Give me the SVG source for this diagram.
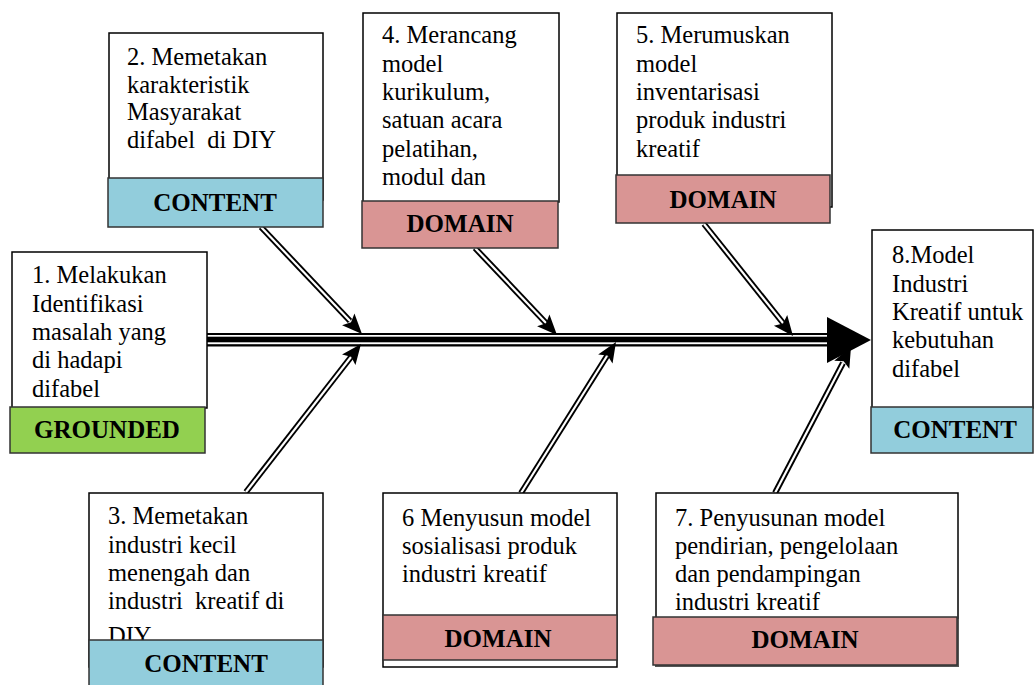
<svg xmlns="http://www.w3.org/2000/svg" width="1036" height="685" viewBox="0 0 1036 685">
<style>
.box{fill:#fff;stroke:#000;stroke-width:1.5}
.g{fill:#92d050;stroke:#333;stroke-width:1.5}
.c{fill:#92cddc;stroke:#333;stroke-width:1.5}
.d{fill:#d99594;stroke:#333;stroke-width:1.5}
.t{font-family:"Liberation Serif","Times New Roman",serif;font-size:24.5px;fill:#000}
.b{font-family:"Liberation Serif","Times New Roman",serif;font-size:25px;font-weight:bold;fill:#000;text-anchor:middle}
.sh{fill:none;stroke:#000;stroke-width:6}
.sw{fill:none;stroke:#fff;stroke-width:2.2}
.ah{fill:none;stroke:none}
</style>
<defs>
<marker id="ah" markerUnits="userSpaceOnUse" markerWidth="24" markerHeight="20" viewBox="-22 -10 24 20" refX="0" refY="0" orient="auto">
<path d="M0,0 L-20,-8.5 L-16,0 L-20,8.5 Z" fill="#000"/>
</marker>
</defs>

<g id="connectors">
<rect x="207" y="333" width="623" height="13.5" fill="#000"/>
<rect x="207" y="335" width="623" height="1.7" fill="#fff"/>
<rect x="207" y="342.3" width="623" height="1.9" fill="#fff"/>
<polygon points="827,317 871,340 827,363" fill="#000"/>
<path class="sh" d="M261,227 L350,321"/>
<path class="sw" d="M261,227 L350,321"/>
<path class="sh" d="M246,492 L351,357"/>
<path class="sw" d="M246,492 L351,357"/>
<path class="sh" d="M475,248 L546,323"/>
<path class="sw" d="M475,248 L546,323"/>
<path class="sh" d="M704,224 L783,323"/>
<path class="sw" d="M704,224 L783,323"/>
<path class="sh" d="M521,493 L607,356"/>
<path class="sw" d="M521,493 L607,356"/>
<path class="sh" d="M775,493 L843,363"/>
<path class="sw" d="M775,493 L843,363"/>
<path class="ah" d="M261,227 L362,334" marker-end="url(#ah)"/>
<path class="ah" d="M246,492 L361,344" marker-end="url(#ah)"/>
<path class="ah" d="M475,248 L557,335" marker-end="url(#ah)"/>
<path class="ah" d="M704,224 L793,336" marker-end="url(#ah)"/>
<path class="ah" d="M521,493 L616,342" marker-end="url(#ah)"/>
<path class="ah" d="M775,493 L851,347" marker-end="url(#ah)"/>
</g>

<g id="node1">
<rect class="box" x="12" y="252" width="195" height="156"/>
<text class="t" x="32" y="283">1. Melakukan</text>
<text class="t" x="32" y="312">Identifikasi</text>
<text class="t" x="32" y="340">masalah yang</text>
<text class="t" x="32" y="368">di hadapi</text>
<text class="t" x="32" y="397">difabel</text>
<rect class="g" x="10" y="407" width="195" height="46"/>
<text class="b" x="107" y="438">GROUNDED</text>
</g>

<g id="node2">
<rect class="box" x="109" y="33" width="214" height="167"/>
<text class="t" x="127" y="65">2. Memetakan</text>
<text class="t" x="127" y="93">karakteristik</text>
<text class="t" x="127" y="120">Masyarakat</text>
<text class="t" x="127" y="148" xml:space="preserve">difabel  di DIY</text>
<rect class="c" x="108" y="178" width="215" height="49"/>
<text class="b" x="215" y="211">CONTENT</text>
</g>

<g id="node3">
<rect class="box" x="89" y="493" width="234" height="174"/>
<text class="t" x="108" y="524">3. Memetakan</text>
<text class="t" x="108" y="553">industri kecil</text>
<text class="t" x="108" y="581">menengah dan</text>
<text class="t" x="108" y="609" xml:space="preserve">industri  kreatif di</text>
<text class="t" x="108" y="644">DIY</text>
<rect class="c" x="89" y="640" width="234" height="50"/>
<text class="b" x="206" y="672">CONTENT</text>
</g>

<g id="node4">
<rect class="box" x="363" y="13" width="196" height="189"/>
<text class="t" x="382" y="43">4. Merancang</text>
<text class="t" x="382" y="72">model</text>
<text class="t" x="382" y="100">kurikulum,</text>
<text class="t" x="382" y="128">satuan acara</text>
<text class="t" x="382" y="157">pelatihan,</text>
<text class="t" x="382" y="185">modul dan</text>
<rect class="d" x="362" y="201" width="196" height="47"/>
<text class="b" x="460" y="232">DOMAIN</text>
</g>

<g id="node5">
<rect class="box" x="617" y="13" width="215" height="194"/>
<text class="t" x="636" y="43">5. Merumuskan</text>
<text class="t" x="636" y="72">model</text>
<text class="t" x="636" y="100">inventarisasi</text>
<text class="t" x="636" y="128">produk industri</text>
<text class="t" x="636" y="157">kreatif</text>
<rect class="d" x="616" y="175" width="214" height="48"/>
<text class="b" x="723" y="208">DOMAIN</text>
</g>

<g id="node6">
<rect class="box" x="383" y="493" width="234" height="174"/>
<text class="t" x="402" y="526">6 Menyusun model</text>
<text class="t" x="402" y="554">sosialisasi produk</text>
<text class="t" x="402" y="582">industri kreatif</text>
<rect class="d" x="383" y="615" width="234" height="45"/>
<text class="b" x="498" y="647">DOMAIN</text>
</g>

<g id="node7">
<rect class="box" x="656" y="493" width="302" height="130"/>
<text class="t" x="675" y="526">7. Penyusunan model</text>
<text class="t" x="675" y="554">pendirian, pengelolaan</text>
<text class="t" x="675" y="582">dan pendampingan</text>
<text class="t" x="675" y="610">industri kreatif</text>
<rect x="655" y="619" width="304" height="48" fill="#555"/>
<rect class="d" x="653" y="617" width="304" height="48"/>
<text class="b" x="805" y="648">DOMAIN</text>
</g>

<g id="node8">
<rect class="box" x="872" y="230" width="161" height="178"/>
<text class="t" x="892" y="263">8.Model</text>
<text class="t" x="892" y="292">Industri</text>
<text class="t" x="892" y="320">Kreatif untuk</text>
<text class="t" x="892" y="348">kebutuhan</text>
<text class="t" x="892" y="377">difabel</text>
<rect class="c" x="871" y="407" width="162" height="46"/>
<text class="b" x="955" y="438">CONTENT</text>
</g>
</svg>
